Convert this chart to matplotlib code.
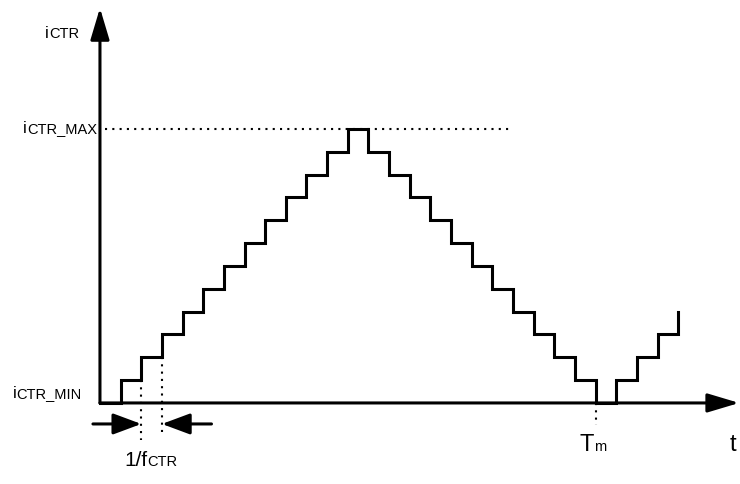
import numpy as np
import matplotlib.pyplot as plt
from matplotlib.patches import FancyArrowPatch
from matplotlib.offsetbox import TextArea, HPacker, AnnotationBbox

plt.rcParams['font.family'] = ['Liberation Sans', 'DejaVu Sans']

# staircase levels, one per clock period 1/fCTR
levels = [0, 1, 2, 3, 4, 5, 6, 7, 8, 9, 10, 11, 12,
          11, 10, 9, 8, 7, 6, 5, 4, 3, 2, 1, 0, 1, 2, 3, 4]
periods = np.arange(len(levels))
level_max = max(levels)
t_m = 24  # period where the counter returns to the minimum

fig = plt.figure(figsize=(7.4, 4.84), dpi=100)
ax = fig.add_axes([0, 0, 1, 1])
ax.set_xlim(-4.84, 30.99)
ax.set_ylim(-3.55, 17.65)
ax.axis('off')

ax.step(periods, levels, where='post', color='black', lw=2.2, solid_joinstyle='miter')

def arrow(x0, y0, x1, y1, hl, hw):
    ax.add_patch(FancyArrowPatch((x0, y0), (x1, y1),
                                 arrowstyle=f'-|>,head_length={hl},head_width={hw}',
                                 mutation_scale=20, color='black', lw=2.2,
                                 shrinkA=0, shrinkB=0))

# axes
arrow(0, 0, 0, 17.3, 0.97, 0.29)
arrow(0, 0, 30.95, 0, 0.97, 0.29)

# dotted guides
dot = (0, (1, 2.5))
ax.plot([0.25, 19.95], [level_max, level_max], color='black', lw=1.5, ls=dot)
ax.plot([2, 2], [1, -1.62], color='black', lw=1.5, ls=dot)
ax.plot([3, 3], [2, -1.40], color='black', lw=1.5, ls=dot)
ax.plot([t_m, t_m], [0, -0.96], color='black', lw=1.5, ls=dot)

# period marker arrows
arrow(-0.34, -0.92, 2, -0.92, 0.86, 0.32)
arrow(5.4, -0.92, 3, -0.92, 0.86, 0.32)

def label(x, y, main, sub, align, size=12, sub_size=10.5):
    parts = [TextArea(main, textprops=dict(fontsize=size))]
    if sub:
        parts.append(TextArea(sub, textprops=dict(fontsize=sub_size)))
    box = HPacker(children=parts, align='baseline', pad=0, sep=0)
    ax.add_artist(AnnotationBbox(box, (x, y), xycoords='data', box_alignment=align,
                                 frameon=False, pad=0))

label(-2.66, 16.2, 'i', 'CTR', (0, 0.5))
label(-0.15, level_max, 'i', 'CTR_MAX', (1, 0.5))
label(-0.87, 0.4, 'i', 'CTR_MIN', (1, 0.5))
label(2.47, -2.54, '1/f', 'CTR', (0.5, 0.5), size=15)
label(t_m - 0.15, -1.84, 'T', 'm', (0.5, 0.5), size=17)
label(30.65, -1.84, 't', None, (0.5, 0.5), size=17)

fig.savefig('out.png', dpi=100)
